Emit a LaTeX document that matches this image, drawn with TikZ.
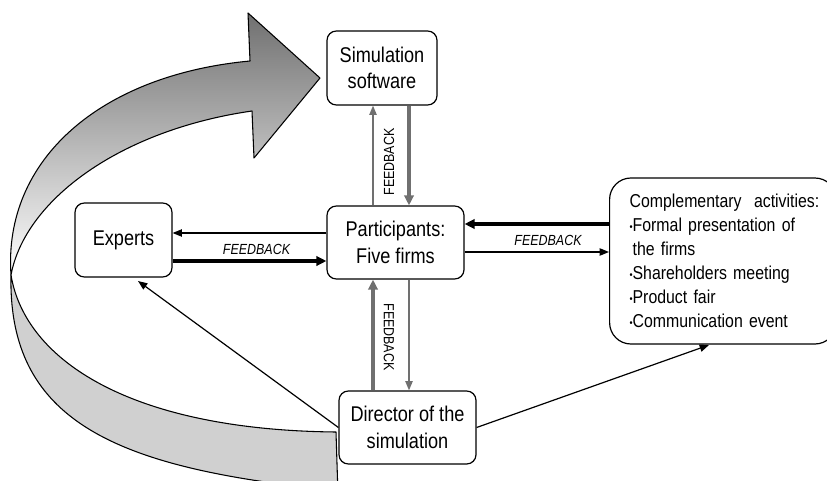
\documentclass[tikz,border=0pt]{standalone}
\usepackage{fontspec}
\usepackage{graphicx}
\setmainfont[FakeStretch=0.85]{Liberation Sans}
\usetikzlibrary{arrows.meta}
\definecolor{agray}{RGB}{112,112,112}
\definecolor{bandgray}{RGB}{208,208,208}
\definecolor{headgray}{RGB}{112,112,112}
\newcommand\bulletdot{\raisebox{0.15ex}{\scalebox{0.55}{•}}}
\begin{document}
\begin{tikzpicture}[x=0.75pt,y=-0.75pt,
  box/.style={draw,fill=white,line width=0.9pt,rounded corners=7pt,align=center,
    font=\fontsize{16}{20}\selectfont,inner sep=0pt},
  thinblk/.style={line width=0.9pt,-{Triangle[length=7pt,width=5.5pt]}},
  thickblk/.style={line width=2.4pt,-{Triangle[length=7.5pt,width=7pt]}},
  thingry/.style={agray,line width=1.1pt,-{Triangle[length=7pt,width=5.5pt]}},
  thickgry/.style={agray,line width=2.4pt,-{Triangle[length=7.5pt,width=7pt]}},
  fb/.style={font=\fontsize{11}{11}\selectfont,inner sep=0pt},
  band/.style={line width=0.8pt,line join=round}
]
\useasboundingbox (0,0) rectangle (827,481);

% big twisted arrow
\shadedraw[band,top color=headgray,bottom color=white]
  (250,61) -- (248,13) -- (320,78) -- (254,158) -- (252,111)
  .. controls (120,130) and (25,200) .. (11,275)
  .. controls (3,160) and (100,75) .. (250,61) -- cycle;
\filldraw[band,fill=bandgray]
  (11,275) .. controls (8,410) and (100,460) .. (280,484)
  -- (280,495) -- (338,495) -- (336,432)
  .. controls (130,430) and (25,360) .. (11,275) -- cycle;

% boxes
\node[box,minimum width=82.5pt,minimum height=55.5pt] (sim) at (382,68) {Simulation\\software};
\node[box,minimum width=102.75pt,minimum height=54.75pt] (part) at (395.5,242.5) {Participants:\\Five firms};
\node[box,minimum width=72.75pt,minimum height=55.5pt] (exp) at (123.5,240) {Experts};
\node[box,minimum width=102.75pt,minimum height=54.75pt] (dir) at (407.5,427.5) {Director of the\\simulation};
\node[draw,fill=white,line width=0.9pt,rounded corners=16pt,anchor=west,
  minimum height=124.5pt,text width=140pt,inner xsep=15pt,align=left,
  font=\fontsize{14}{18}\selectfont] (comp) at (609,261)
  {\mbox{Complementary\ \ activities:}\\
   \bulletdot Formal presentation of\\
   \phantom{\bulletdot}the firms\\
   \bulletdot Shareholders meeting\\
   \bulletdot Product fair\\
   \bulletdot Communication event};

% helper coordinates
\coordinate (xa) at (373,0);
\coordinate (xb) at (409,0);
\coordinate (ya) at (0,233);
\coordinate (yb) at (0,261);
\coordinate (yc) at (0,224);
\coordinate (yd) at (0,252);
\coordinate (e1) at (138,281);
\coordinate (c1) at (709,345);

% vertical connectors
\draw[thingry] (part.north -| xa) -- (sim.south -| xa);
\draw[thickgry] (sim.south -| xb) -- (part.north -| xb);
\draw[thickgry] (dir.north -| xa) -- (part.south -| xa);
\draw[thingry] (part.south -| xb) -- (dir.north -| xb);

% horizontal connectors
\draw[thinblk] (part.west |- ya) -- (exp.east |- ya);
\draw[thickblk] (exp.east |- yb) -- (part.west |- yb);
\draw[thickblk] (comp.west |- yc) -- (part.east |- yc);
\draw[thinblk] (part.east |- yd) -- (comp.west |- yd);

% diagonal connectors
\draw[thinblk] (dir.west) -- (e1);
\draw[thinblk] (dir.east) -- (c1);

% labels
\node[fb,font=\fontsize{11}{11}\selectfont\itshape] (fl) at (256.5,249.5) {FEEDBACK};
\node[fb,font=\fontsize{11}{11}\selectfont\itshape] (fr) at (548,240.5) {FEEDBACK};
\node[fb,rotate=90] (fu) at (389,162) {FEEDBACK};
\node[fb,rotate=-90] (fd) at (389,337) {FEEDBACK};
\end{tikzpicture}
\end{document}
